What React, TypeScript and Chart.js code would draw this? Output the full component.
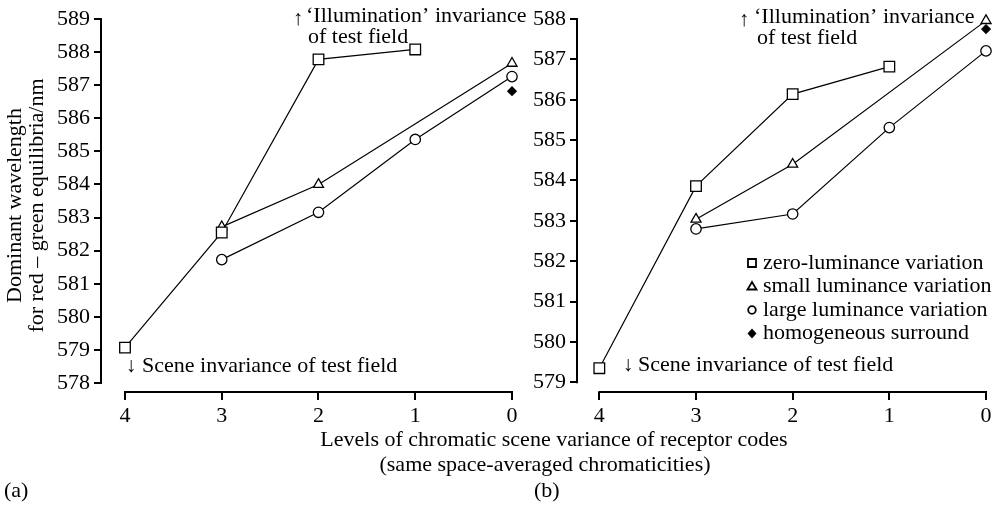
import React, { useEffect, useRef } from "react";
import { Chart, registerables } from "chart.js";

Chart.register(...registerables);

// ---------- data ----------
const levels = [4, 3, 2, 1, 0];
const xTicks = [4, 3, 2, 1, 0];
const seriesLabels = [
  "zero-luminance variation",
  "small luminance variation",
  "large luminance variation",
  "homogeneous surround",
];
const pointStyles = ["rect", "triangle", "circle", "rectRot"];

const aZero = [579.07, 582.55, 587.78, 588.08, null];
const aSmall = [null, 582.72, 584.0, null, 587.66];
const aLarge = [null, 581.73, 583.16, 585.36, 587.26];
const aHomog = [null, null, null, null, 586.82];

const bZero = [579.35, 583.86, 586.14, 586.82, null];
const bSmall = [null, 583.04, 584.4, null, 587.96];
const bLarge = [null, 582.8, 583.17, 585.31, 587.21];
const bHomog = [null, null, null, null, 587.75];

const aYTicks = [578, 579, 580, 581, 582, 583, 584, 585, 586, 587, 588, 589];
const bYTicks = [579, 580, 581, 582, 583, 584, 585, 586, 587, 588];

const yTitleLines = ["Dominant wavelength", "for red \u2013 green equilibria/nm"];
const xTitleLines = [
  "Levels of chromatic scene variance of receptor codes",
  "(same space-averaged chromaticities)",
];
const illumLines = ["\u2018Illumination\u2019 invariance", "of test field"];
const sceneLine = "Scene invariance of test field";

// ---------- style ----------
const FONT = '"Liberation Serif", "Times New Roman", serif';
const FS = 22;
const AS = 21;
const W = 1005;
const H = 507;

type TextItem = { t: string; x: number; y: number; size?: number; align?: CanvasTextAlign };

type Panel = {
  series: (number | null)[][];
  yTicks: number[];
  yMin: number;
  yMax: number;
  xMax: number;
  area: { left: number; right: number; top: number; bottom: number };
  yTitle: string[] | null;
  texts: TextItem[];
  legend: { x: number; y: number; dy: number } | null;
};

const YW = 97;
const XH = 40;

const panels: Panel[] = [
  {
    series: [aZero, aSmall, aLarge, aHomog],
    yTicks: aYTicks,
    yMin: 577.73,
    yMax: 589,
    xMax: 4.248,
    area: { left: 101, right: 512, top: 19, bottom: 392 },
    yTitle: yTitleLines,
    texts: [
      { t: "\u2191", x: 298, y: 19, size: AS, align: "center" },
      { t: illumLines[0], x: 306, y: 16 },
      { t: illumLines[1], x: 308, y: 37 },
      { t: "\u2193", x: 131, y: 366, size: AS, align: "center" },
      { t: sceneLine, x: 142, y: 366 },
      { t: xTitleLines[0], x: 554, y: 440, align: "center" },
      { t: xTitleLines[1], x: 545, y: 465, align: "center" },
      { t: "(a)", x: 4, y: 491 },
    ],
    legend: null,
  },
  {
    series: [bZero, bSmall, bLarge, bHomog],
    yTicks: bYTicks,
    yMin: 578.76,
    yMax: 588,
    xMax: 4.231,
    area: { left: 577, right: 986, top: 19, bottom: 392 },
    yTitle: null,
    texts: [
      { t: "\u2191", x: 744, y: 20, size: AS, align: "center" },
      { t: illumLines[0], x: 754, y: 17 },
      { t: illumLines[1], x: 757, y: 38 },
      { t: "\u2193", x: 628, y: 365, size: AS, align: "center" },
      { t: sceneLine, x: 638, y: 365 },
      { t: "(b)", x: 534, y: 491 },
    ],
    legend: { x: 752, y: 263, dy: 23.5 },
  },
];

function drawSymbol(ctx: CanvasRenderingContext2D, style: string, x: number, y: number) {
  ctx.beginPath();
  if (style === "rect") {
    ctx.rect(x - 4, y - 4, 8, 8);
    ctx.stroke();
  } else if (style === "triangle") {
    ctx.moveTo(x, y - 4.5);
    ctx.lineTo(x + 4.5, y + 3);
    ctx.lineTo(x - 4.5, y + 3);
    ctx.closePath();
    ctx.stroke();
  } else if (style === "circle") {
    ctx.arc(x, y, 3.8, 0, Math.PI * 2);
    ctx.stroke();
  } else {
    ctx.moveTo(x, y - 5);
    ctx.lineTo(x + 4.5, y);
    ctx.lineTo(x, y + 5);
    ctx.lineTo(x - 4.5, y);
    ctx.closePath();
    ctx.fill();
  }
}

function makeConfig(p: Panel): any {
  const radii = [7.5, 5.8, 5.2, 4.2];
  const datasets = p.series.map((vals, i) => ({
    label: seriesLabels[i],
    data: levels
      .map((lv, j) => ({ x: lv, y: vals[j] }))
      .filter((d) => d.y !== null),
    borderColor: "#000",
    borderWidth: 1.2,
    backgroundColor: i === 3 ? "#000" : "#fff",
    pointBackgroundColor: i === 3 ? "#000" : "#fff",
    pointBorderColor: "#000",
    pointBorderWidth: 1.3,
    pointStyle: pointStyles[i],
    pointRadius: radii[i],
    pointHoverRadius: radii[i],
    showLine: i !== 3,
    tension: 0,
    fill: false,
    clip: false,
  }));

  const axisPlugin = {
    id: "axes-" + p.area.left,
    beforeDatasetsDraw(chart: any) {
      const { ctx, chartArea, scales } = chart;
      const x = scales.x;
      const y = scales.y;
      ctx.save();
      ctx.strokeStyle = "#000";
      ctx.lineWidth = 2;
      ctx.beginPath();
      const yTop = y.getPixelForValue(p.yTicks[p.yTicks.length - 1]);
      const yBot = y.getPixelForValue(p.yTicks[0]);
      ctx.moveTo(chartArea.left, yTop - 1);
      ctx.lineTo(chartArea.left, yBot + 1);
      const xl = x.getPixelForValue(xTicks[0]);
      const xr = x.getPixelForValue(xTicks[xTicks.length - 1]);
      ctx.moveTo(xl - 1, chartArea.bottom);
      ctx.lineTo(xr + 1, chartArea.bottom);
      ctx.stroke();
      ctx.restore();
    },
    afterDraw(chart: any) {
      const { ctx } = chart;
      ctx.save();
      ctx.fillStyle = "#000";
      ctx.textBaseline = "middle";
      for (const it of p.texts) {
        ctx.font = `${it.size ?? FS}px ${FONT}`;
        ctx.textAlign = it.align ?? "left";
        ctx.fillText(it.t, it.x, it.y);
      }
      if (p.legend) {
        const lg = p.legend;
        ctx.font = `${FS}px ${FONT}`;
        ctx.textAlign = "left";
        ctx.strokeStyle = "#000";
        ctx.lineWidth = 1.8;
        chart.data.datasets.forEach((ds: any, i: number) => {
          const yy = lg.y + i * lg.dy;
          drawSymbol(ctx, ds.pointStyle, lg.x, yy);
          ctx.fillText(ds.label, lg.x + 11, yy);
        });
      }
      ctx.restore();
    },
  };

  return {
    type: "line",
    data: { datasets },
    options: {
      animation: false,
      responsive: false,
      events: [],
      layout: {
        padding: {
          left: p.area.left - YW,
          right: W - p.area.right,
          top: p.area.top,
          bottom: H - p.area.bottom - XH,
        },
      },
      plugins: { legend: { display: false }, tooltip: { enabled: false }, title: { display: false } },
      scales: {
        x: {
          type: "linear",
          min: 0,
          max: p.xMax,
          reverse: true,
          afterBuildTicks: (s: any) => {
            s.ticks = xTicks.map((v) => ({ value: v }));
          },
          afterFit: (s: any) => {
            s.height = XH;
          },
          border: { display: false },
          grid: {
            drawOnChartArea: false,
            drawTicks: true,
            tickLength: 8,
            tickWidth: 2,
            lineWidth: 2,
            tickColor: "#000",
            color: "#000",
          },
          ticks: {
            color: "#000",
            font: { family: FONT, size: FS },
            padding: 3,
            maxRotation: 0,
            autoSkip: false,
            callback: (v: any) => String(v),
          },
        },
        y: {
          type: "linear",
          min: p.yMin,
          max: p.yMax,
          afterBuildTicks: (s: any) => {
            s.ticks = p.yTicks.map((v) => ({ value: v }));
          },
          afterFit: (s: any) => {
            s.width = YW;
          },
          border: { display: false },
          grid: {
            drawOnChartArea: false,
            drawTicks: true,
            tickLength: 7,
            tickWidth: 2,
            lineWidth: 2,
            tickColor: "#000",
            color: "#000",
          },
          ticks: {
            color: "#000",
            font: { family: FONT, size: FS },
            padding: 4,
            autoSkip: false,
            callback: (v: any) => String(v),
          },
          title: p.yTitle
            ? {
                display: true,
                text: p.yTitle,
                color: "#000",
                font: { family: FONT, size: FS, lineHeight: 1.0 },
                padding: { top: 0, bottom: 0 },
              }
            : { display: false },
        },
      },
    },
    plugins: [axisPlugin],
  };
}

export default function App() {
  const refA = useRef<HTMLCanvasElement>(null);
  const refB = useRef<HTMLCanvasElement>(null);

  useEffect(() => {
    const charts: Chart[] = [];
    [refA, refB].forEach((r, i) => {
      if (r.current) charts.push(new Chart(r.current, makeConfig(panels[i])));
    });
    return () => charts.forEach((c) => c.destroy());
  }, []);

  const cstyle: React.CSSProperties = {
    position: "absolute",
    left: 0,
    top: 0,
    width: W,
    height: H,
  };

  return (
    <div style={{ position: "absolute", left: 0, top: 0, width: W, height: H, background: "#fff" }}>
      <canvas ref={refA} width={W} height={H} style={cstyle} />
      <canvas ref={refB} width={W} height={H} style={cstyle} />
    </div>
  );
}
